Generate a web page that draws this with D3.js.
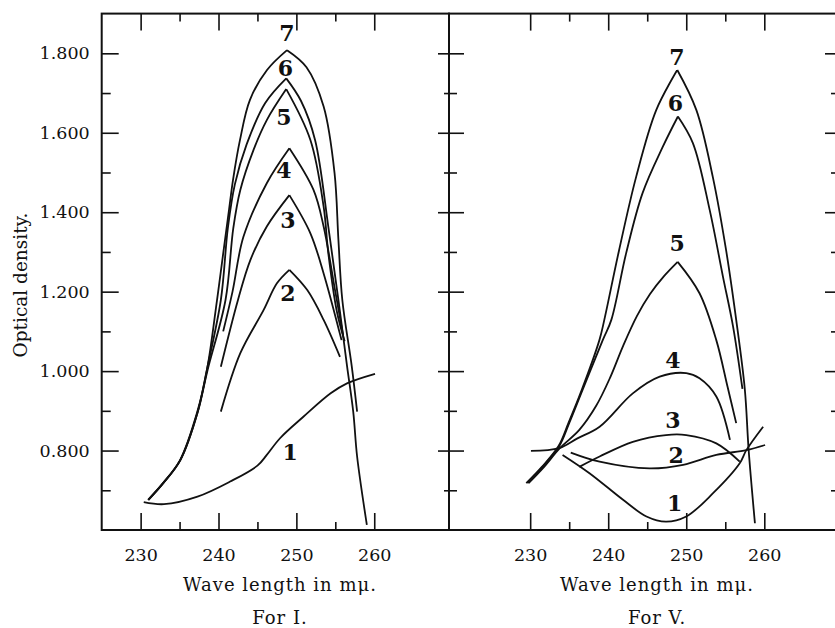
<!DOCTYPE html>
<html><head><meta charset="utf-8">
<script src="https://cdn.jsdelivr.net/npm/d3@7"></script>
<style>body{margin:0;background:#fff}svg{display:block}</style>
</head><body><svg id="c" width="835" height="628"></svg>
<script>
// ---------- data ----------
const wlMajor=[230,240,250,260];
const wlMinor=[235,245,255];
const odMajor=[0.8,1.0,1.2,1.4,1.6,1.8];
const odMinor=[0.7,0.9,1.1,1.3,1.5,1.7];
const odLabels=["0.800","1.000","1.200","1.400","1.600","1.800"];
const curveNames=["1","2","3","4","5","6","7"];

// Panel "For I."  [wave length, optical density]
const I1=[[230.4,0.670],[233,0.665],[237.3,0.684],[241.5,0.722],[245,0.762],[246.2,0.789],[247.9,0.831],[250.9,0.885],[254.4,0.944],[256.5,0.969],[260.1,0.993]];
const I2=[[240.3,0.898],[242.8,1.045],[245.8,1.154],[247.5,1.221],[249.1,1.255],[251.4,1.204],[253.5,1.129],[255.6,1.036]];
const I3=[[240.3,1.011],[242.5,1.179],[244.1,1.28],[246.2,1.364],[249.1,1.443],[251.8,1.347],[253.5,1.246],[255.8,1.078]];
const I4=[[240.6,1.10],[241.8,1.20],[243.2,1.338],[246.2,1.473],[249.1,1.561],[252.2,1.456],[253.5,1.364],[255.0,1.20],[256.0,1.09]];
const I5=[[231.0,0.676],[232.9,0.718],[235.1,0.776],[237.3,0.895],[238.6,1.003],[240.9,1.179],[241.9,1.36],[242.8,1.456],[244.5,1.557],[246.2,1.632],[248.7,1.71],[251.8,1.582],[253.5,1.414],[254.1,1.297],[255.2,1.15],[256.2,1.075]];
const I6=[[231.0,0.676],[232.9,0.718],[235.1,0.776],[237.3,0.895],[238.5,1.003],[240.3,1.179],[241.2,1.36],[242.1,1.47],[243.6,1.57],[246.0,1.675],[248.7,1.737],[250.6,1.68],[252.4,1.582],[254.1,1.364],[255.4,1.179],[256.5,1.014],[257.3,0.898],[257.8,0.785],[259.05,0.613]];
const I7=[[230.95,0.676],[232.87,0.718],[235.06,0.776],[237.24,0.895],[238.52,1.003],[239.81,1.179],[240.83,1.33],[241.35,1.406],[241.86,1.481],[242.76,1.582],[244.04,1.683],[246.23,1.758],[248.8,1.808],[251.3,1.765],[253.5,1.666],[254.9,1.499],[255.4,1.33],[255.9,1.179],[257.1,1.014],[257.8,0.898]];
const seriesI=[I1,I2,I3,I4,I5,I6,I7];
const cuspI=[false,true,true,true,true,true,true];
const labelPosI=[[249.2,0.797],[248.9,1.196],[248.9,1.38],[248.4,1.506],[248.4,1.64],[248.6,1.762],[248.8,1.85]];

// Panel "For V."
const V1=[[234.15,0.789],[237.6,0.743],[241.9,0.676],[244.9,0.634],[247.4,0.621],[250,0.634],[253.4,0.692],[256.85,0.768],[257.7,0.801],[259.85,0.86]];
const V2=[[235.2,0.795],[238.9,0.772],[245.3,0.755],[249.6,0.764],[253.85,0.789],[257.7,0.801],[260.1,0.814]];
const V3=[[236.3,0.759],[238.9,0.785],[243.15,0.822],[247.4,0.839],[250,0.839],[253.85,0.818],[256.85,0.772]];
const V4=[[230.1,0.799],[233.7,0.806],[236.0,0.83],[238.9,0.86],[243.15,0.944],[246.6,0.986],[250,0.995],[251.7,0.982],[253.85,0.936],[255.6,0.827]];
const V5=[[229.8,0.718],[231.7,0.757],[233.8,0.806],[236.3,0.852],[238.44,0.912],[240.23,0.983],[241.9,1.063],[243.69,1.139],[245.36,1.194],[247.15,1.239],[248.9,1.275],[251.7,1.196],[253.85,1.078],[255.3,0.96],[256.4,0.869]];
const V6=[[229.65,0.718],[231.6,0.759],[233.7,0.81],[235.0,0.869],[236.7,0.952],[239.3,1.078],[240.4,1.129],[242.3,1.297],[244.4,1.448],[247.0,1.565],[248.93,1.641],[250.85,1.574],[253.0,1.406],[254.7,1.238],[256.0,1.112],[257.2,0.955]];
const V7=[[229.5,0.718],[231.5,0.759],[233.6,0.81],[234.9,0.869],[236.6,0.952],[238.87,1.078],[239.5,1.129],[241.4,1.305],[243.58,1.489],[246.15,1.657],[248.85,1.758],[251.3,1.657],[253.4,1.489],[255.1,1.305],[256.4,1.129],[257.5,0.955],[258.0,0.8],[258.8,0.617]];
const seriesV=[V1,V2,V3,V4,V5,V6,V7];
const cuspV=[false,false,false,false,true,true,true];
const labelPosV=[[248.5,0.667],[248.7,0.789],[248.3,0.877],[248.3,1.028],[248.85,1.322],[248.6,1.674],[248.8,1.792]];

// ---------- drawing ----------
const svg=d3.select("#c");
svg.append("rect").attr("width",835).attr("height",628).attr("fill","#fff");
const FONT="'DejaVu Serif', 'Liberation Serif', serif";
const y=d3.scaleLinear().domain([0.6,1.9]).range([530,13.6]);
const yTop=y.range()[1], yBot=y.range()[0];

const panels=[
  {x:d3.scaleLinear().domain([225,269.6]).range([101.7,449]), series:seriesI, cusp:cuspI, labels:labelPosI, title:"For I.", yLabels:true,
   leftTick:[17,9], rightTick:[11,5], titleX:280},
  {x:d3.scaleLinear().domain([219.6,269.7]).range([449,840]), series:seriesV, cusp:cuspV, labels:labelPosV, title:"For V.", yLabels:false,
   leftTick:[15,8], rightTick:[15,9], titleX:657}
];

panels.forEach(p=>{
  const x=p.x, [x0,x1]=x.range();
  const g=svg.append("g");
  const style=sel=>{sel.select(".domain").remove();sel.selectAll("line").attr("stroke","#111").attr("stroke-width",1.6);};
  // bottom axis
  g.append("g").attr("transform",`translate(0,${yBot})`)
    .call(d3.axisBottom(x).tickValues(wlMajor).tickSize(-17).tickPadding(19).tickFormat(d3.format("d")))
    .call(style).call(s=>s.selectAll("text").attr("font-family",FONT).attr("font-size",17.5).attr("fill","#111"));
  g.append("g").attr("transform",`translate(0,${yBot})`)
    .call(d3.axisBottom(x).tickValues(wlMinor).tickSize(-8).tickFormat(""))
    .call(style);
  // top axis
  g.append("g").attr("transform",`translate(0,${yTop})`)
    .call(d3.axisTop(x).tickValues(wlMajor).tickSize(-17).tickFormat("")).call(style);
  g.append("g").attr("transform",`translate(0,${yTop})`)
    .call(d3.axisTop(x).tickValues(wlMinor).tickSize(-8).tickFormat("")).call(style);
  // left axis
  const la=g.append("g").attr("transform",`translate(${x0},0)`)
    .call(d3.axisLeft(y).tickValues(odMajor).tickSize(-p.leftTick[0]).tickPadding(12)
      .tickFormat((d,i)=>p.yLabels?odLabels[i]:""))
    .call(style);
  la.selectAll("text").attr("font-family",FONT).attr("font-size",17.5).attr("fill","#111");
  g.append("g").attr("transform",`translate(${x0},0)`)
    .call(d3.axisLeft(y).tickValues(odMinor).tickSize(-p.leftTick[1]).tickFormat("")).call(style);
  // right axis
  g.append("g").attr("transform",`translate(${x1},0)`)
    .call(d3.axisRight(y).tickValues(odMajor).tickSize(-p.rightTick[0]).tickFormat("")).call(style);
  g.append("g").attr("transform",`translate(${x1},0)`)
    .call(d3.axisRight(y).tickValues(odMinor).tickSize(-p.rightTick[1]).tickFormat("")).call(style);
  // frame
  g.append("rect").attr("x",x0).attr("y",yTop).attr("width",x1-x0).attr("height",yBot-yTop)
    .attr("fill","none").attr("stroke","#111").attr("stroke-width",2);

  // curves
  const line=d3.line().x(d=>x(d[0])).y(d=>y(d[1])).curve(d3.curveCatmullRom.alpha(0.5));
  p.series.forEach((s,i)=>{
    let parts=[s];
    if(p.cusp[i]){const k=d3.maxIndex(s,d=>d[1]);parts=[s.slice(0,k+1),s.slice(k)];}
    parts.forEach(pt=>g.append("path").attr("d",line(pt)).attr("fill","none")
      .attr("stroke","#111").attr("stroke-width",1.8).attr("stroke-linejoin","miter"));
  });
  // curve labels
  p.labels.forEach((l,i)=>g.append("text").attr("x",x(l[0])).attr("y",y(l[1]))
    .attr("text-anchor","middle").attr("dominant-baseline","central")
    .attr("font-family",FONT).attr("font-weight","bold").attr("font-size",22).attr("fill","#111")
    .text(curveNames[i]));

  // x titles
  g.append("text").attr("x",p.titleX).attr("y",591).attr("text-anchor","middle")
    .attr("font-family",FONT).attr("font-size",18).attr("letter-spacing",1).attr("fill","#111").text("Wave length in mμ.");
  g.append("text").attr("x",p.titleX).attr("y",624).attr("text-anchor","middle")
    .attr("font-family",FONT).attr("font-size",18).attr("letter-spacing",1).attr("fill","#111").text(p.title);
});

svg.append("text").attr("transform","translate(27,285) rotate(-90)").attr("text-anchor","middle")
  .attr("font-family",FONT).attr("font-size",18.5).attr("fill","#111").text("Optical density.");
</script></body></html>
